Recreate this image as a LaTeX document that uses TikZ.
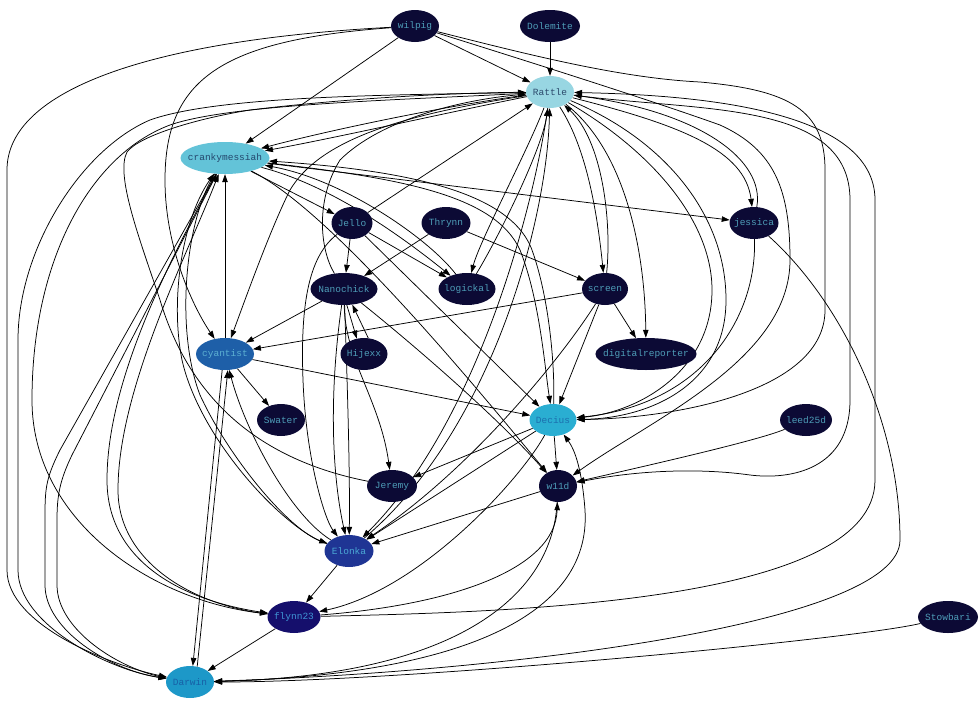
\documentclass[tikz,border=0pt]{standalone}
\usepackage{fontspec}
\setmonofont{Liberation Mono}
\usetikzlibrary{shapes.geometric,arrows.meta,backgrounds}
\definecolor{dk}{HTML}{0C0A35}
\definecolor{dkt}{HTML}{4E9DB8}
\definecolor{ratf}{HTML}{98D6E2}
\definecolor{ratt}{HTML}{2C4A6C}
\definecolor{crkf}{HTML}{63C3D8}
\definecolor{crkt}{HTML}{24486E}
\definecolor{cyaf}{HTML}{1E5FA8}
\definecolor{cyat}{HTML}{5CB0D2}
\definecolor{decf}{HTML}{2AAED2}
\definecolor{dect}{HTML}{1B6FAE}
\definecolor{darf}{HTML}{1D98C8}
\definecolor{dart}{HTML}{175FA6}
\definecolor{elof}{HTML}{1F3594}
\definecolor{elot}{HTML}{4BA9D6}
\definecolor{flyf}{HTML}{150F6C}
\definecolor{flyt}{HTML}{3F95D5}
\tikzset{
  nd/.style={ellipse, minimum height=32pt, inner ysep=0pt, inner xsep=-7pt, draw=none,
    font=\ttfamily\fontsize{9.5}{10}\selectfont},
  dkn/.style={nd, fill=dk, text=dkt},
  e/.style={draw=black, line width=0.75pt, -{Triangle[length=8pt,width=5.5pt]}}
}
\begin{document}
\begin{tikzpicture}[x=1pt,y=-1pt]
\useasboundingbox (0,0) rectangle (980,720);
\node[dkn, minimum width=48pt] (W) at (415,26) {wilpig};
\node[dkn, minimum width=60pt] (DO) at (550,26) {Dolemite};
\node[nd, minimum width=48pt, fill=ratf, text=ratt] (R) at (550,92) {Rattle};
\node[nd, minimum width=89pt, fill=crkf, text=crkt] (C) at (225,158) {crankymessiah};
\node[dkn, minimum width=41pt] (J) at (352,223) {Jello};
\node[dkn, minimum width=49pt] (T) at (446,223) {Thrynn};
\node[dkn, minimum width=49pt] (JE) at (754,223) {jessica};
\node[dkn, minimum width=67pt] (N) at (344,289) {Nanochick};
\node[dkn, minimum width=57pt] (L) at (467,289) {logickal};
\node[dkn, minimum width=46pt] (S) at (605,289) {screen};
\node[nd, minimum width=58pt, fill=cyaf, text=cyat] (CY) at (225,354) {cyantist};
\node[dkn, minimum width=47pt] (H) at (364,354) {Hijexx};
\node[dkn, minimum width=99pt] (DR) at (646,354) {digitalreporter};
\node[dkn, minimum width=48pt] (SW) at (281,420) {Swater};
\node[nd, minimum width=47pt, fill=decf, text=dect] (D) at (553,420) {Decius};
\node[dkn, minimum width=52pt] (LE) at (806,420) {leed25d};
\node[dkn, minimum width=50pt] (JR) at (392,486) {Jeremy};
\node[dkn, minimum width=38pt] (WD) at (558,486) {w11d};
\node[nd, minimum width=49pt, fill=elof, text=elot] (E) at (349,551) {Elonka};
\node[nd, minimum width=53pt, fill=flyf, text=flyt] (F) at (294,617) {flynn23};
\node[dkn, minimum width=60pt] (ST) at (948,617) {Stowbari};
\node[nd, minimum width=48pt, fill=darf, text=dart] (DA) at (190,682) {Darwin};
\begin{scope}[on background layer]
\draw[e] (DO) -- (R);
\draw[e] (W) -- (R);
\draw[e] (W) -- (C);
\draw[e] (W) .. controls (220,40) and (165,80) .. (165,180) .. controls (165,250) and (195,310) .. (CY);
\draw[e] (W) .. controls (150,40) and (7,90) .. (7,170) -- (7,570) .. controls (7,625) and (110,665) .. (DA);
\draw[e] (W) .. controls (530,55) and (620,78) .. (700,82) .. controls (790,90) and (825,110) .. (825,170) -- (825,310) .. controls (825,390) and (680,418) .. (D);
\draw[e] (W) .. controls (530,62) and (650,100) .. (720,125) .. controls (775,150) and (790,190) .. (790,260) .. controls (790,360) and (650,420) .. (WD);
\draw[e] (R) .. controls (450,105) and (330,130) .. (C);
\draw[e] (R) .. controls (450,112) and (335,138) .. (C);
\draw[e] (JR) .. controls (260,460) and (190,400) .. (160,300) .. controls (140,240) and (115,175) .. (127,152) .. controls (140,135) and (200,118) .. (250,110) .. controls (350,98) and (450,93) .. (R);
\draw[e] (R) .. controls (400,95) and (220,95) .. (150,120) .. controls (80,150) and (18,250) .. (18,340) -- (18,570) .. controls (18,625) and (110,670) .. (DA);
\draw[e] (C) -- (60,450) .. controls (45,480) and (45,490) .. (45,520) -- (45,585) .. controls (45,630) and (110,670) .. (DA);
\draw[e] (DA) .. controls (120,670) and (57,630) .. (57,585) -- (57,520) .. controls (57,495) and (60,480) .. (72,455) -- (C);
\draw[e] (C) .. controls (170,260) and (107,380) .. (107,480) .. controls (107,560) and (180,600) .. (F);
\draw[e] (F) .. controls (190,605) and (118,560) .. (118,490) .. controls (118,390) and (185,260) .. (C);
\draw[e] (R) .. controls (400,100) and (230,104) .. (170,125) .. controls (90,155) and (32,260) .. (32,400) .. controls (32,520) and (150,600) .. (F);
\draw[e] (CY) -- (C);
\draw[e] (CY.-100) -- (DA.80);
\draw[e] (DA.65) -- (CY.-80);
\draw[e] (E) .. controls (290,515) and (245,430) .. (CY);
\draw[e] (C) .. controls (185,220) and (175,330) .. (200,395) .. controls (230,460) and (290,530) .. (E);
\draw[e] (E) .. controls (285,530) and (200,440) .. (182,360) .. controls (170,300) and (182,220) .. (C);
\draw[e] (J) .. controls (310,255) and (300,300) .. (303,380) .. controls (306,460) and (325,520) .. (E);
\draw[e] (N) .. controls (328,400) and (333,480) .. (E);
\draw[e] (N) .. controls (348,400) and (350,480) .. (E);
\draw[e] (N.-80) -- (H.115);
\draw[e] (H.75) -- (N.-62);
\draw[e] (N) .. controls (345,360) and (380,400) .. (JR);
\draw[e] (N) .. controls (420,350) and (500,420) .. (WD);
\draw[e] (N) -- (CY);
\draw[e] (T) -- (N);
\draw[e] (T) -- (S);
\draw[e] (J) -- (N);
\draw[e] (J) -- (L);
\draw[e] (J) -- (D);
\draw[e] (J) -- (R);
\draw[e] (C) -- (J);
\draw[e] (C) .. controls (330,185) and (400,235) .. (L);
\draw[e] (L) .. controls (430,240) and (345,180) .. (C);
\draw[e] (C) .. controls (400,178) and (495,195) .. (520,250) .. controls (540,300) and (545,370) .. (D);
\draw[e] (D) .. controls (555,370) and (550,300) .. (532,250) .. controls (510,190) and (400,170) .. (C);
\draw[e] (C) .. controls (330,210) and (470,380) .. (WD);
\draw[e] (C) -- (JE);
\draw[e] (R) .. controls (680,125) and (745,150) .. (JE);
\draw[e] (JE) .. controls (765,160) and (700,112) .. (R);
\draw[e] (R) .. controls (588,150) and (598,220) .. (S);
\draw[e] (S) .. controls (612,220) and (602,140) .. (R);
\draw[e] (R) .. controls (625,150) and (645,250) .. (DR);
\draw[e] (R) .. controls (650,150) and (712,220) .. (712,290) .. controls (712,370) and (640,412) .. (D);
\draw[e] (R) .. controls (665,140) and (726,215) .. (726,300) .. controls (726,385) and (650,418) .. (D);
\draw[e] (JE) .. controls (757,320) and (700,405) .. (D);
\draw[e] (JE) .. controls (840,300) and (900,420) .. (900,540) .. controls (900,625) and (500,672) .. (DA);
\draw[e] (ST) .. controls (850,640) and (400,682) .. (DA);
\draw[e] (F) .. controls (500,612) and (875,605) .. (875,480) -- (875,200) .. controls (875,110) and (700,95) .. (R);
\draw[e] (R) .. controls (700,112) and (850,100) .. (850,200) -- (850,400) .. controls (850,470) and (790,480) .. (750,475) .. controls (700,468) and (640,470) .. (WD);
\draw[e] (LE) .. controls (760,440) and (650,465) .. (WD);
\draw[e] (F) .. controls (450,605) and (555,570) .. (WD);
\draw[e] (WD) .. controls (552,600) and (450,676) .. (DA);
\draw[e] (DA) .. controls (450,676) and (592,620) .. (585,510) .. controls (582,470) and (575,450) .. (D);
\draw[e] (F) -- (DA);
\draw[e] (E) -- (F);
\draw[e] (D) .. controls (520,480) and (420,590) .. (F);
\draw[e] (D) -- (JR);
\draw[e] (D) -- (E);
\draw[e] (D) -- (WD);
\draw[e] (WD) -- (E);
\draw[e] (S) .. controls (560,360) and (470,470) .. (E);
\draw[e] (S) -- (D);
\draw[e] (S) -- (DR);
\draw[e] (S) -- (CY);
\draw[e] (R) .. controls (535,200) and (480,420) .. (E);
\draw[e] (E) .. controls (492,430) and (547,220) .. (R);
\draw[e] (R) .. controls (528,150) and (480,240) .. (L);
\draw[e] (L) .. controls (497,240) and (542,150) .. (R);
\draw[e] (R) .. controls (400,115) and (320,140) .. (290,190) .. controls (270,230) and (245,300) .. (CY);
\draw[e] (N) .. controls (320,250) and (315,200) .. (340,160) .. controls (380,120) and (460,100) .. (R);
\draw[e] (CY) -- (D);
\draw[e] (CY) -- (SW);
\end{scope}
\end{tikzpicture}
\end{document}
